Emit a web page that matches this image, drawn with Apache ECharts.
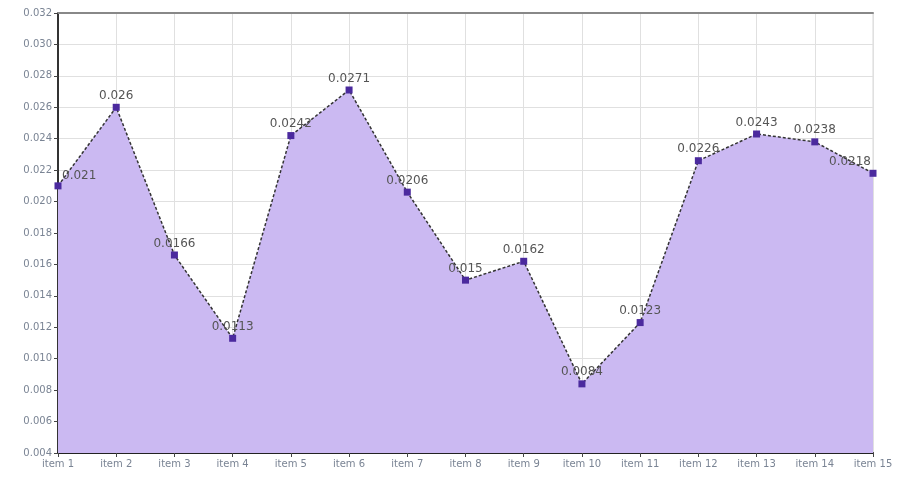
<!DOCTYPE html>
<html>
<head>
<meta charset="utf-8">
<script src="https://cdn.jsdelivr.net/npm/echarts@6/dist/echarts.min.js"></script>
<style>
  html, body { margin: 0; padding: 0; background: #fff; }
  #main { width: 903px; height: 483px; }
</style>
</head>
<body>
<div id="main"></div>
<script>
let categories = ['item 1', 'item 2', 'item 3', 'item 4', 'item 5', 'item 6', 'item 7', 'item 8',
  'item 9', 'item 10', 'item 11', 'item 12', 'item 13', 'item 14', 'item 15'];
let values = [0.021, 0.026, 0.0166, 0.0113, 0.0242, 0.0271, 0.0206, 0.015,
  0.0162, 0.0084, 0.0123, 0.0226, 0.0243, 0.0238, 0.0218];

let myChart = echarts.init(document.getElementById('main'));

// first and last labels are pushed inside the plot
let data = values.map(function (v, i) {
  if (i === 0) {
    return { value: v, label: { align: 'left', offset: [4, 2] } };
  }
  if (i === values.length - 1) {
    return { value: v, label: { align: 'right', offset: [-2, 0] } };
  }
  return v;
});

let option = {
  animation: false,
  grid: {
    left: 58, right: 30, top: 13, bottom: 30,
    show: true, borderColor: '#d8d8d8', borderWidth: 1
  },
  xAxis: [{
    type: 'category',
    data: categories,
    boundaryGap: false,
    axisLine: { lineStyle: { color: '#222', width: 2 } },
    axisTick: { show: true, length: 4, lineStyle: { color: '#444' } },
    axisLabel: { color: '#7a8494', fontSize: 10, margin: 6, fontFamily: 'DejaVu Sans' },
    splitLine: { show: true, lineStyle: { color: '#e0e0e0' } }
  }, {
    type: 'category',
    data: categories,
    position: 'top',
    boundaryGap: false,
    axisLine: { lineStyle: { color: '#888', width: 2 } },
    axisTick: { show: false },
    axisLabel: { show: false }
  }],
  yAxis: {
    type: 'value',
    min: 0.004,
    max: 0.032,
    interval: 0.002,
    axisLine: { show: true, lineStyle: { color: '#333', width: 2 } },
    axisTick: { show: true, length: 4, lineStyle: { color: '#444' } },
    axisLabel: {
      color: '#7a8494', fontSize: 10, margin: 6, fontFamily: 'DejaVu Sans',
      formatter: function (v) { return v.toFixed(3); }
    },
    splitLine: { show: true, lineStyle: { color: '#e0e0e0' } }
  },
  series: [{
    type: 'line',
    data: data,
    symbol: 'rect',
    symbolSize: 7,
    itemStyle: { color: '#4b2a9e' },
    lineStyle: { color: '#333', width: 1.5, type: [3, 2] },
    areaStyle: { color: '#cbb9f2', opacity: 1 },
    label: {
      show: true,
      position: 'top',
      distance: 2,
      color: '#555',
      fontSize: 12,
      fontFamily: 'DejaVu Sans'
    },
    z: 3
  }]
};

myChart.setOption(option);
</script>
</body>
</html>
